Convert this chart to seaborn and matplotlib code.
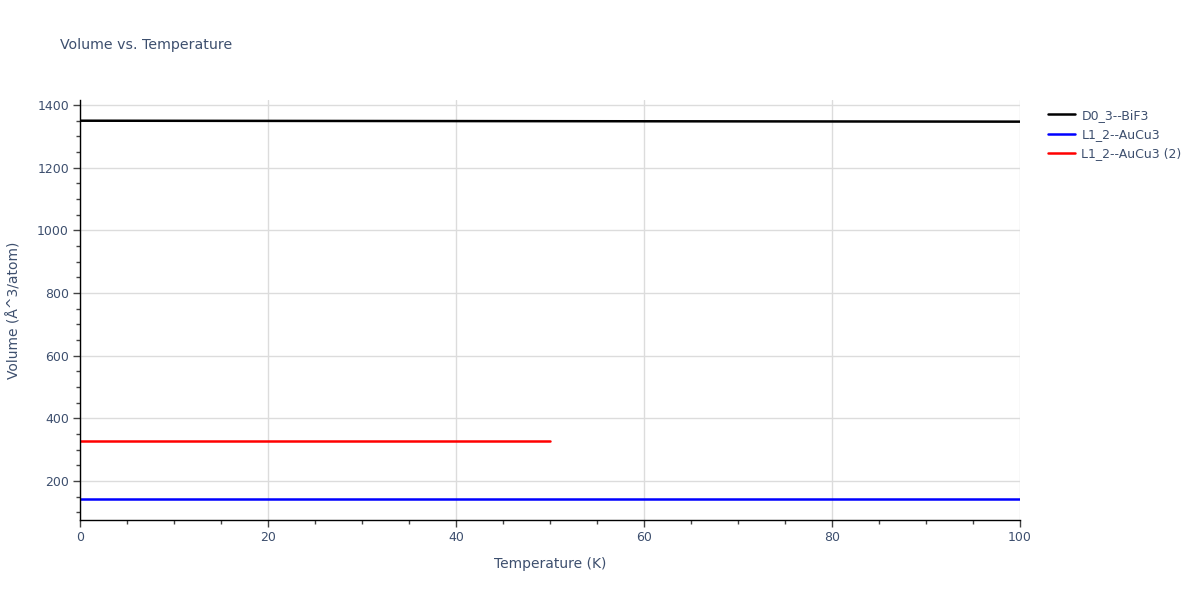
import numpy as np
import pandas as pd
import matplotlib
matplotlib.use('Agg')
import matplotlib.pyplot as plt
import seaborn as sns
from matplotlib.ticker import MultipleLocator

# values
temp_bif3 = [0, 50, 100]
vol_bif3 = [1350, 1348.5, 1347]
temp_aucu3 = [0, 50, 100]
vol_aucu3 = [143, 143, 143]
temp_aucu3_2 = [0, 25, 50]
vol_aucu3_2 = [327, 327, 327]

names = ['D0_3--BiF3', 'L1_2--AuCu3', 'L1_2--AuCu3 (2)']
colors = ['black', 'blue', 'red']

df = pd.concat([
    pd.DataFrame({'Temperature': temp_bif3, 'Volume': vol_bif3, 'name': names[0]}),
    pd.DataFrame({'Temperature': temp_aucu3, 'Volume': vol_aucu3, 'name': names[1]}),
    pd.DataFrame({'Temperature': temp_aucu3_2, 'Volume': vol_aucu3_2, 'name': names[2]}),
])

sns.set_style('white')
plt.rcParams['font.family'] = ['DejaVu Sans']
txt = '#3d4f6e'

fig = plt.figure(figsize=(12, 6), dpi=100)
ax = fig.add_axes([0.0667, 0.1333, 0.7833, 0.7])

sns.lineplot(data=df, x='Temperature', y='Volume', hue='name',
             palette=dict(zip(names, colors)), linewidth=1.8, ax=ax, legend=True)

ax.set_xlim(0, 100)
ax.set_ylim(76, 1416)
ax.xaxis.set_major_locator(MultipleLocator(20))
ax.xaxis.set_minor_locator(MultipleLocator(5))
ax.yaxis.set_major_locator(MultipleLocator(200))
ax.yaxis.set_minor_locator(MultipleLocator(50))
ax.grid(True, which='major', color='#dcdcdc', linewidth=1)
ax.set_axisbelow(True)

for s in ['top', 'right']:
    ax.spines[s].set_visible(False)
for s in ['left', 'bottom']:
    ax.spines[s].set_color('black')
    ax.spines[s].set_linewidth(1)

ax.tick_params(which='major', direction='out', length=5, width=1, color='#444444',
               labelsize=9, labelcolor=txt, left=True, bottom=True, pad=3)
ax.tick_params(which='minor', direction='out', length=3, width=1, color='#444444',
               left=True, bottom=True)

ax.set_xlabel('Temperature (K)', fontsize=10, color=txt, labelpad=9)
ax.set_ylabel('Volume (Å^3/atom)', fontsize=10, color=txt, labelpad=11)

fig.text(0.05, 0.925, 'Volume vs. Temperature', fontsize=10.2, color=txt, va='center')

ax.legend(loc='upper left', bbox_to_anchor=(1.02, 1.0), frameon=False,
          fontsize=9, labelcolor=txt, handlelength=2.2, handletextpad=0.5,
          borderaxespad=0.3)

fig.savefig('out.png', dpi=100)
